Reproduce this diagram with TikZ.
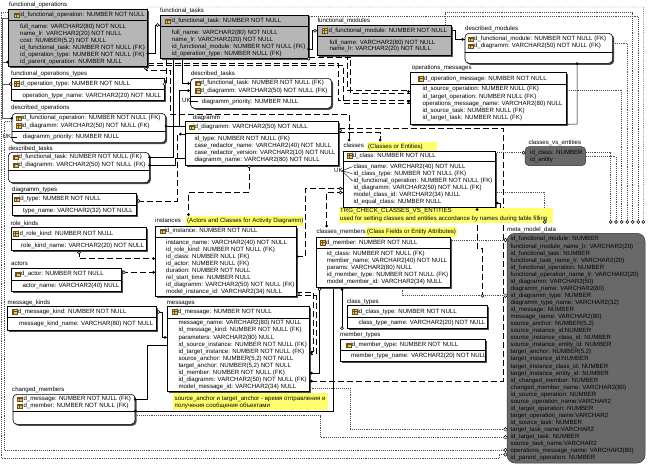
\documentclass[tikz,border=0pt]{standalone}
\usepackage{fontspec}
\setmainfont{Liberation Sans}
\usetikzlibrary{fit,shadows}
\pgfdeclarelayer{paper}
\pgfdeclarelayer{bg}
\pgfsetlayers{paper,bg,main}
\definecolor{ylw}{RGB}{255,255,110}
\definecolor{gbox}{RGB}{182,182,182}
\definecolor{vbox}{RGB}{105,105,105}
\definecolor{keyf}{RGB}{232,204,96}
\definecolor{keyd}{RGB}{110,80,30}
\newcommand\fs{\fontsize{6.1}{7}\selectfont}
\tikzset{
 tx/.style={anchor=west,inner sep=0pt,font=\fs,text height=4.4pt,text depth=1.1pt},
 tb/.style={draw=black,line width=0.6pt,fill=white,inner sep=0pt,drop shadow={shadow xshift=1.5pt,shadow yshift=-1.5pt,fill=black!70,opacity=1}},
 tbg/.style={tb,fill=gbox},
 tbr/.style={tb,rounded corners=4pt},
 vw/.style={draw=black!80,line width=0.5pt,fill=vbox,rounded corners=6pt,inner sep=0pt},
 note/.style={fill=ylw,draw=none,inner sep=0pt},
 sepl/.style={draw=black,line width=0.5pt},
 rel/.style={draw=black,line width=0.5pt},
 dsh/.style={rel,dash pattern=on 6pt off 3pt},
 vl/.style={draw=black!70,line width=0.45pt,dash pattern=on 0.8pt off 1.1pt},
 keyic/.pic={\filldraw[fill=keyf,draw=keyd,line width=0.3pt] (-2.6,-2.3) rectangle (2.6,2.3);
   \draw[keyd,line width=0.3pt] (-2.6,-0.7) -- (2.6,-0.7) (-0.9,-2.3) -- (-0.9,2.3);}
}
\newcommand\rws[5]{\foreach \s [count=\i from 0] in {#5} {\node[tx] (#1\i) at (#2,{#3+\i*#4}) {\s};}}
\newcommand\dotm[1]{\fill[black] #1 circle (1.5);}
\newcommand\cirm[1]{\filldraw[fill=white,draw=black,line width=0.5pt] #1 circle (1.5);}
\newcommand\diam[1]{\filldraw[fill=white,draw=black,line width=0.45pt] #1 ++(-1.8,0) -- ++(1.8,-1.8) -- ++(1.8,1.8) -- ++(-1.8,1.8) -- cycle;}
\begin{document}
\catcode`\_=12
\begin{tikzpicture}[x=1pt,y=-1pt]
\begin{pgfonlayer}{paper}
\path[use as bounding box,fill=white] (0,0) rectangle (648,466);
\end{pgfonlayer}

% ---------------- functional_operations
\node[tx] (fol) at (9,4.5) {functional_operations};
\node[tbg,fit={(8,9)(147.5,66)}] (fo) {};
\draw[sepl] (fo.west |- 0,20.7) -- (fo.east |- 0,20.7);
\node[tx] (foh) at (19.3,15.3) {id_functional_operation: NUMBER NOT NULL};
\pic at (16.8,15.3) {keyic};
\rws{fo}{20}{26.7}{7.05}{{full_name: VARCHAR2(80) NOT NULL},{name_lr: VARCHAR2(20) NOT NULL},{cost: NUMBER(5,2) NOT NULL},{id_functional_task: NUMBER NOT NULL (FK)},{id_operation_type: NUMBER NOT NULL (FK)},{id_parent_operation: NUMBER NULL}}

% ---------------- functional_operations_types
\node[tx] (fotl) at (11,74.3) {functional_operations_types};
\node[tb,fit={(11,78.3)(164.3,100.7)}] (fot) {};
\draw[sepl] (fot.west |- 0,89) -- (fot.east |- 0,89);
\node[tx] (foth) at (19,83.5) {id_operation_type: NUMBER NOT NULL};
\pic at (17,83.5) {keyic};
\node[tx] (fotr) at (22.5,95.5) {operation_type_name: VARCHAR2(20) NOT NULL};

% ---------------- described_operations
\node[tx] (dol) at (11,108.3) {described_operations};
\node[tbr,fit={(12,113.3)(165.7,142.7)}] (do) {};
\draw[sepl] (do.west |- 0,131.3) -- (do.east |- 0,131.3);
\rws{doh}{21.3}{118.3}{7.4}{{id_functional_operation: NUMBER NOT NULL (FK)},{id_diagramm: VARCHAR2(50) NOT NULL (FK)}}
\pic at (19,118.3) {keyic}; \pic at (19,125.7) {keyic};
\node[tx] (dor) at (22.7,137.3) {diagramm_priority: NUMBER NULL};
\node[tx] (douk) at (2.5,137.3) {UK};
\draw[rel,line width=0.4pt] (douk.east) -- (17,137.3);

% ---------------- described_tasks (left)
\node[tx] (dt1l) at (8.5,148.7) {described_tasks};
\node[tbr,fit={(8.3,152.3)(149.3,182.7)}] (dt1) {};
\draw[sepl] (dt1.west |- 0,170.3) -- (dt1.east |- 0,170.3);
\rws{dt1h}{17}{157.3}{8}{{id_functional_task: NUMBER NOT NULL (FK)},{id_diagramm: VARCHAR2(50) NOT NULL (FK)}}
\pic at (15.5,157.3) {keyic}; \pic at (15.5,165.3) {keyic};

% ---------------- diagramm_types
\node[tx] (dtyl) at (12,190) {diagramm_types};
\node[tb,fit={(12.3,193.3)(136.7,215.7)}] (dty) {};
\draw[sepl] (dty.west |- 0,205) -- (dty.east |- 0,205);
\node[tx] (dtyh) at (18.7,199.3) {id_type: NUMBER NOT NULL};
\pic at (16.7,199.3) {keyic};
\node[tx] (dtyr) at (23,211.3) {type_name: VARCHAR2(32) NOT NULL};

% ---------------- role_kinds
\node[tx] (rkl) at (10.3,223.7) {role_kinds};
\node[tb,fit={(11,227.7)(146.7,250.7)}] (rk) {};
\draw[sepl] (rk.west |- 0,239.7) -- (rk.east |- 0,239.7);
\node[tx] (rkh) at (18,233.7) {id_role_kind: NUMBER NOT NULL};
\pic at (16,233.7) {keyic};
\node[tx] (rkr) at (21,245.7) {role_kind_name: VARCHAR2(20) NOT NULL};

% ---------------- actors
\node[tx] (actl) at (11,264) {actors};
\node[tb,fit={(11.7,268.3)(121.7,291.7)}] (act) {};
\draw[sepl] (act.west |- 0,280) -- (act.east |- 0,280);
\node[tx] (acth) at (19.5,274.3) {id_actor: NUMBER NOT NULL};
\pic at (17.5,274.3) {keyic};
\node[tx] (actr) at (22.3,285.7) {actor_name: VARCHAR2(40) NULL};

% ---------------- message_kinds
\node[tx] (mkl) at (7.5,302.7) {message_kinds};
\node[tb,fit={(7.3,306.7)(156.3,330)}] (mk) {};
\draw[sepl] (mk.west |- 0,317.7) -- (mk.east |- 0,317.7);
\node[tx] (mkh) at (16.5,311.7) {id_message_kind: NUMBER NOT NULL};
\pic at (14.5,311.7) {keyic};
\node[tx] (mkr) at (19,324) {message_kind_name: VARCHAR(80) NOT NULL};

% ---------------- changed_members
\node[tx] (cmeml) at (12,390) {changed_members};
\node[tbr,fit={(13,394.3)(135,424.3)}] (cmem) {};
\draw[sepl] (cmem.west |- 0,411.7) -- (cmem.east |- 0,411.7);
\rws{cmemh}{22}{399.3}{6.9}{{id_message: NUMBER NOT NULL (FK)},{id_member: NUMBER NOT NULL (FK)}}
\pic at (20,399.3) {keyic}; \pic at (20,406.2) {keyic};

% ---------------- functional_tasks
\node[tx] (ftl) at (160,10.7) {functional_tasks};
\node[tbg,fit={(160,15.7)(308.3,58.3)}] (ft) {};
\draw[sepl] (ft.west |- 0,26.7) -- (ft.east |- 0,26.7);
\node[tx] (fth) at (170,21) {id_functional_task: NUMBER NOT NULL};
\pic at (168,21) {keyic};
\rws{ft}{171.7}{32.7}{6.95}{{full_name: VARCHAR2(80) NOT NULL},{name_lr: VARCHAR2(20) NOT NULL},{id_functional_module: NUMBER NOT NULL (FK)},{id_operation_type: NUMBER NULL (FK)}}

% ---------------- functional_modules
\node[tx] (fml) at (317.3,20.7) {functional_modules};
\node[tbg,fit={(317.3,25)(451.7,55)}] (fm) {};
\draw[sepl] (fm.west |- 0,36.7) -- (fm.east |- 0,36.7);
\node[tx] (fmh) at (327,30.7) {id_functional_module: NUMBER NOT NULL};
\pic at (325,30.7) {keyic};
\rws{fm}{329.3}{42.7}{6.6}{{full_name: VARCHAR2(80) NOT NULL},{name_lr: VARCHAR2(20) NOT NULL}}

% ---------------- described_modules
\node[tx] (dml) at (465,29) {described_modules};
\node[tbr,fit={(465,33.3)(612.7,63.3)}] (dm) {};
\draw[sepl] (dm.west |- 0,52.3) -- (dm.east |- 0,52.3);
\rws{dmh}{472.5}{39.3}{6.7}{{id_functional_module: NUMBER NOT NULL (FK)},{id_diagramm: VARCHAR2(50) NOT NULL (FK)}}
\pic at (471,39.3) {keyic}; \pic at (471,46) {keyic};

% ---------------- operations_messages
\node[tx] (oml) at (411.7,68.3) {operations_messages};
\node[tb,fit={(410.7,72.7)(566.7,124)}] (om) {};
\draw[sepl] (om.west |- 0,84.7) -- (om.east |- 0,84.7);
\node[tx] (omh) at (422.5,78.7) {id_operation_message: NUMBER NOT NULL};
\pic at (420.5,78.7) {keyic};
\rws{om}{422.3}{89.3}{7.17}{{id_source_operation: NUMBER NULL (FK)},{id_target_operation: NUMBER NULL (FK)},{operations_message_name: VARCHAR2(80) NULL},{id_source_task: NUMBER NULL (FK)},{id_target_task: NUMBER NULL (FK)}}

% ---------------- described_tasks (middle)
\node[tx] (dt2l) at (190.7,73.7) {described_tasks};
\node[tbr,fit={(190.5,78.3)(331.7,108.3)}] (dt2) {};
\draw[sepl] (dt2.west |- 0,96.3) -- (dt2.east |- 0,96.3);
\rws{dt2h}{199}{83.3}{7.4}{{id_functional_task: NUMBER NOT NULL (FK)},{id_diagramm: VARCHAR2(50) NOT NULL (FK)}}
\pic at (197.5,83.3) {keyic}; \pic at (197.5,90.7) {keyic};
\node[tx] (dt2r) at (201.7,102.3) {diagramm_priority: NUMBER NULL};
\node[tx] (dt2uk) at (182,100.7) {UK};
\draw[rel,line width=0.4pt] (dt2uk.east) -- (198,100.7);

% ---------------- diagramm
\node[tx] (dgl) at (192.7,117.7) {diagramm};
\node[tb,fit={(185,121.7)(338.3,165)}] (dg) {};
\draw[sepl] (dg.west |- 0,133.3) -- (dg.east |- 0,133.3);
\node[tx] (dgh) at (193,127.3) {id_diagramm: VARCHAR2(50) NOT NULL};
\pic at (191.7,127.3) {keyic};
\rws{dg}{194.3}{139}{7.05}{{id_type: NUMBER NOT NULL (FK)},{case_redactor_name: VARCHAR2(40) NOT NULL},{case_redactor_version: VARCHAR2(10) NOT NULL},{diagramm_name: VARCHAR2(80) NOT NULL}}

% ---------------- classes
\node[tx] (clsl) at (343.3,146.3) {classes};
\node[note,fit={(366.7,141.7)(436.7,151.3)}] (clsn) {};
\node[tx] (clsnt) at (368,146.5) {(Classes or Entities)};
\node[tb,fit={(343.3,151)(495,207)}] (cls) {};
\draw[sepl] (cls.west |- 0,161.7) -- (cls.east |- 0,161.7);
\node[tx] (clsh) at (351.3,155.7) {id_class: NUMBER NOT NULL};
\pic at (349.8,155.7) {keyic};
\rws{cls}{353.3}{166.7}{7.1}{{class_name: VARCHAR2(40) NOT NULL},{id_class_type: NUMBER NOT NULL (FK)},{id_functional_operation: NUMBER NOT NULL (FK)},{id_diagramm: VARCHAR2(50) NOT NULL (FK)},{model_class_id: VARCHAR2(34) NULL},{id_equal_class: NUMBER NULL}}
\node[tx] (clsuk) at (334,170.7) {UK};
\draw[rel,line width=0.4pt] (342,170.7) -- (352.5,166.7) (342,170.7) -- (352.5,173.8) (342,170.7) -- (352.5,181);

% ---------------- trigger note
\node[note,fit={(338.7,207.7)(553,222.7)}] (trg) {};
\node[tx] (trg1) at (340,211.3) {TRG_CHECK_CLASSES_VS_ENTITIES};
\node[tx] (trg2) at (340,218.7) {used for setting classes and entities accordance by names during table filling};

% ---------------- classes_members
\node[tx] (cml) at (316.3,231.7) {classes_members};
\node[note,fit={(366,227)(457,237)}] (cmn) {};
\node[tx] (cmnt) at (367,232) {(Class Fields or Entity Attributes)};
\node[tb,fit={(316.7,237.7)(450,287.3)}] (cm) {};
\draw[sepl] (cm.west |- 0,248.3) -- (cm.east |- 0,248.3);
\node[tx] (cmh) at (324.5,242.7) {id_member: NUMBER NOT NULL};
\pic at (323,242.7) {keyic};
\rws{cm}{326.7}{254}{7.07}{{id_class: NUMBER NOT NULL (FK)},{member_name: VARCHAR2(40) NOT NULL},{params: VARCHAR2(80) NULL},{id_member_type: NUMBER NOT NULL (FK)},{model_member_id: VARCHAR2(34) NULL}}

% ---------------- class_types
\node[tx] (ctl) at (346.7,301.7) {class_types};
\node[tb,fit={(347,305)(487,328.3)}] (ct) {};
\draw[sepl] (ct.west |- 0,317) -- (ct.east |- 0,317);
\node[tx] (cth) at (357.3,311.7) {id_class_type: NUMBER NOT NULL};
\pic at (355,311.7) {keyic};
\node[tx] (ctr) at (358.3,322.7) {class_type_name: VARCHAR2(20) NOT NULL};

% ---------------- member_types
\node[tx] (mtl) at (340,335) {member_types};
\node[tb,fit={(340,339)(485,361.7)}] (mt) {};
\draw[sepl] (mt.west |- 0,350.7) -- (mt.east |- 0,350.7);
\node[tx] (mth) at (350.3,345) {id_member_type: NUMBER NOT NULL};
\pic at (348.3,345) {keyic};
\node[tx] (mtr) at (351,356.3) {member_type_name: VARCHAR2(20) NOT NULL};

% ---------------- instances
\node[tx] (instl) at (155,221) {instances};
\node[tb,fit={(155.3,226.3)(296,296.7)}] (inst) {};
\node[note,fit={(185.5,215.7)(303.3,226.3)}] (instn) {};
\node[tx] (instnt) at (187,221) {(Actors and Classes for Activity Diagramm)};
\draw[sepl] (inst.west |- 0,236.8) -- (inst.east |- 0,236.8);
\node[tx] (insth) at (164.3,231.2) {id_instance: NUMBER NOT NULL};
\pic at (162.8,231.2) {keyic};
\rws{inst}{166}{242.5}{7.07}{{instance_name: VARCHAR2(40) NOT NULL},{id_role_kind: NUMBER NOT NULL (FK)},{id_class: NUMBER NULL (FK)},{id_actor: NUMBER NULL (FK)},{duration: NUMBER NOT NULL},{rel_start_time: NUMBER NULL},{id_diagramm: VARCHAR2(50) NOT NULL (FK)},{model_instance_id: VARCHAR2(34) NULL}}

% ---------------- messages
\node[tx] (msgl) at (166.7,302.7) {messages};
\node[tb,fit={(167,306.7)(309.3,391.7)}] (msg) {};
\draw[sepl] (msg.west |- 0,317.8) -- (msg.east |- 0,317.8);
\node[tx] (msgh) at (176.5,311.7) {id_message: NUMBER NOT NULL};
\pic at (175,311.7) {keyic};
\rws{msg}{178.3}{323.3}{7.04}{{message_name: VARCHAR2(80) NOT NULL},{id_message_kind: NUMBER NOT NULL (FK)},{parameters: VARCHAR2(80) NULL},{id_source_instance: NUMBER NOT NULL (FK)},{id_target_instance: NUMBER NOT NULL (FK)},{source_anchor: NUMBER(5,2) NOT NULL},{target_anchor: NUMBER(5,2) NOT NULL},{id_member: NUMBER NOT NULL (FK)},{id_diagramm: VARCHAR2(50) NOT NULL (FK)},{model_message_id: VARCHAR2(34) NULL}}
\node[note,fit={(173.3,393.3)(328.3,410)}] (msgn) {};
\node[tx] (msgn1) at (174.5,399) {source_anchor и target_anchor - время отправления и};
\node[tx] (msgn2) at (174.5,406) {получения сообщения объектами};

% ---------------- classes_vs_entities (view)
\node[tx] (cvel) at (528.3,143.3) {classes_vs_entities};
\node[vw,rounded corners=4pt,fit={(525,146.7)(585.7,165.7)}] (cve) {};
\node[tx] (cve0) at (530,152.7) {id_class: NUMBER};
\node[tx] (cve1) at (530,159.7) {id_entity};

% ---------------- meta_model_data (view)
\node[tx] (mmdl) at (507,229.7) {meta_model_data};
\node[vw,rounded corners=8pt,fit={(507,233.3)(645,463)}] (mmd) {};
\rws{mmd}{510.5}{239.3}{7.06}{{id_functional_module: NUMBER},{functional_module_name_lr: VARCHAR2(20)},{id_functional_task: NUMBER},{functional_task_name_lr: VARCHAR2(20)},{id_functional_operation: NUMBER},{functional_operation_name_lr: VARCHAR2(20)},{id_diagramm: VARCHAR2(50)},{diagramm_name: VARCHAR2(80)},{id_diagramm_type: NUMBER},{diagramm_type_name: VARCHAR2(32)},{id_message: NUMBER},{message_name: VARCHAR2(80)},{source_anchor: NUMBER(5,2)},{source_instance_id:NUMBER},{source_instance_class_id: NUMBER},{source_instance_entity_id: NUMBER},{target_anchor: NUMBER(5,2)},{target_instance_id:NUMBER},{target_instance_class_id: NUMBER},{target_instance_entity_id: NUMBER},{id_changed_member: NUMBER},{changed_member_name: VARCHAR2(80)},{id_source_operation: NUMBER},{source_operation_name:VARCHAR2},{id_target_operation: NUMBER},{target_operation_name:VARCHAR2},{id_source_task: NUMBER},{target_task_name:VARCHAR2},{id_target_task: NUMBER},{source_task_name:VARCHAR2},{operations_message_name: VARCHAR2(80)},{id_parent_operation: NUMBER}}

% ================= connectors (behind the tables)
\begin{pgfonlayer}{bg}
% view dependencies (dotted)
\draw[vl] (fo.north east) -- (147.5,7) -- (643.3,7) -- (643.3,222);
\draw[vl] (ft.east |- 0,16.5) -- (638.3,16.5) -- (638.3,222);
\draw[vl] (fm.north -| 445,0) -- (445,11.8) -- (632.7,11.8) -- (632.7,222);
\draw[vl] (dm.east |- 0,43) -- (627.3,43) -- (627.3,222);
\draw[vl] (om.east |- 0,90) -- (621.7,90) -- (621.7,222);
\draw[vl] (cve.east |- 0,156.5) -- (616,156.5) -- (616,222);
\draw[vl] (cve.east |- 0,152.7) -- (610.7,152.7) -- (610.7,222);
\draw[vl] (cls.east |- 0,152.7) -- (cve.west |- 0,152.7);
\draw[vl] (cls.east |- 0,192) -- (544.7,192) -- (544.7,222);
\draw[vl] (cm.east |- 0,240) -- (mmd.west |- 0,240);
\draw[vl] (cm.south -| 402,0) -- (402,295.7) -- (mmd.west |- 0,295.7);
\draw[vl] (msg.east |- 0,388.3) -- (350,388.3) -- (350,429.3) -- (mmd.west |- 0,429.3);
\draw[vl] (cmem.east |- 0,415.5) -- (320,415.5) -- (320,437.3) -- (mmd.west |- 0,437.3);
\draw[vl] (do.west |- 0,121.5) -- (4.5,121.5) -- (4.5,450) -- (mmd.west |- 0,450);
\draw[vl] (fo.west |- 0,12) -- (0.8,12) -- (0.8,458.3) -- (499,458.3) -- (499,454) -- (mmd.west |- 0,454);
% relationships
\draw[rel,black!65] (fo.west |- 0,62) -- (1.8,62) -- (1.8,84) -- (fot.west |- 0,84);
\draw[rel,black!65] (fo.west |- 0,18) -- (1.8,18) -- (1.8,118.3) -- (do.west |- 0,118.3);
\draw[rel] (fo.east |- 0,53.5) -- (155.5,53.5) -- (155.5,25) -- (ft.west |- 0,25);
\draw[rel] (ft.east |- 0,49) -- (312.5,49) -- (312.5,30.7) -- (fm.west |- 0,30.7);
\draw[rel] (fm.east |- 0,30) -- (455,30) -- (455,39.3) -- (dm.west |- 0,39.3);
\draw[rel] (dm.south -| 577,0) -- (577,124) -- (om.south east);
\draw[dsh] (fo.east |- 0,62.8) -- (338,62.8) -- (338,100.5) -- (om.west |- 0,100.5);
\draw[dsh] (fo.east |- 0,65.5) -- (343.5,65.5) -- (343.5,103) -- (om.west |- 0,103);
\draw[dsh] (ft.east |- 0,56.8) -- (347,56.8) -- (347,90.5) -- (om.west |- 0,90.5);
\draw[dsh] (ft.east |- 0,56.8) -- (350.5,56.8) -- (350.5,93) -- (om.west |- 0,93);
\draw[dsh] (fo.south -| 146,0) -- (146,70) -- (170,70) -- (170,114.5) -- (349,114.5) -- (349,140);
\draw[dsh] (ft.south -| 166.5,0) -- (166.5,84) -- (fot.east |- 0,84);
\draw[rel] (ft.south -| 173,0) -- (173,157.3) -- (dt1.east |- 0,157.3);
\draw[rel] (ft.south -| 182.5,0) -- (182.5,83.5) -- (dt2.west |- 0,83.5);
\draw[rel] (do.east |- 0,126) -- (dg.west |- 0,126);
\draw[rel] (dg.west |- 0,126) -- (179,126) -- (179,90.7) -- (dt2.west |- 0,90.7);
\draw[dsh] (dg.west |- 0,134) -- (177,134) -- (177,201) -- (dty.east |- 0,201);
\draw[rel] (dt1.east |- 0,165.3) -- (175,165.3) -- (175,158) -- (dg.west |- 0,158);
\draw[dsh] (dg.south -| 249,0) -- (249,192) -- (188.5,192) -- (inst.north -| 188.5,0);
\draw[dsh] (rk.south -| 79,0) -- (79,258.7) -- (inst.west |- 0,258.7);
\draw[dsh] (act.east |- 0,272.3) -- (inst.west |- 0,272.3);
\draw[dsh] (cls.west |- 0,188.5) -- (305,188.5) -- (305,256.7) -- (inst.east |- 0,256.7);
\coordinate (cmend) at (326.7,226);
\draw[dsh] (cls.west |- 0,192.5) -- (326.7,192.5) -- (cmend);
\draw[dsh] (dg.east |- 0,128.5) -- (503,128.5) -- (503,381) -- (msg.east |- 0,381);
\draw[dsh] (dg.east |- 0,132.5) -- (380,132.5) -- (380,140);
\draw[dsh] (inst.east |- 0,292.5) -- (313.5,292.5) -- (313.5,351) -- (msg.east |- 0,351);
\draw[dsh] (inst.east |- 0,295.5) -- (316,295.5) -- (316,354) -- (msg.east |- 0,354);
\draw[rel] (msg.east |- 0,373) -- (319.5,373) -- (cm.south -| 319.5,0);
\draw[rel] (cmem.east |- 0,411) -- (333.3,411) -- (cm.south -| 333.3,0);
\draw[rel] (cm.south -| 342,0) -- (342,327);
\draw[rel] (mk.east |- 0,312) -- (162.5,312) -- (162.5,337.3) -- (msg.west |- 0,337.3);
\draw[rel] (cmem.east |- 0,399.3) -- (147.7,399.3) -- (147.7,345) -- (msg.west |- 0,345);
\draw[dsh] (cls.south -| 477,0) -- (477,248) -- (482.5,248) -- (482.5,294);
\draw[rel] (cls.south -| 486,0) -- (486,214) -- (500,214) -- (500,203) -- (cls.east |- 0,203);
\end{pgfonlayer}

% ================= end marks
\foreach \xx in {610.7,616,621.7,627.3,632.7,638.3,643.3} {\cirm{(\xx,222)}}
\cirm{(544.7,222)}
\cirm{(523.5,152.7)}
\diam{(505.5,240)} \diam{(505.5,295.7)} \diam{(505.5,429.3)} \diam{(505.5,437.3)} \diam{(505.5,450)} \diam{(505.5,454.5)}
\cirm{(482.5,295.7)}
\dotm{(fo.west |- 0,62)} \cirm{(fot.west |- 0,84)} \dotm{(do.west |- 0,118.3)}
\dotm{(fo.east |- 0,53.5)} \cirm{(157.5,25)}
\dotm{(ft.east |- 0,49)} \cirm{(315,30.7)}
\dotm{(462.5,39.3)}
\dotm{(dm.south -| 577,0)}
\dotm{(408.5,91.7)} \dotm{(408.5,101.7)} \cirm{(ft.south east)}
\cirm{(146,68.5)} \dotm{(349,140)}
\cirm{(fot.east |- 0,84)}
\dotm{(dt1.east |- 0,157.3)} \dotm{(188.3,83.5)} \dotm{(188.3,90.7)}
\dotm{(do.east |- 0,126)} \dotm{(180.5,134)} \cirm{(138.5,201)}
\dotm{(dt1.east |- 0,165.3)}
\cirm{(249,166.5)} \dotm{(188.5,214.5)}
\cirm{(79,252.5)} \dotm{(153.5,258.7)}
\cirm{(124,272.3)} \dotm{(153.5,272.3)}
\cirm{(340.5,188.5)} \cirm{(340.5,192.5)} \dotm{(297.5,256.7)} \dotm{(cmend)}
\cirm{(340.3,130.5)} \dotm{(380,140)} \dotm{(311.5,381)}
\cirm{(298,294)} \dotm{(311.5,352.7)}
\dotm{(311.5,373)} \cirm{(319.5,289.3)}
\dotm{(cmem.east |- 0,411)} \dotm{(342,289.3)} \cirm{(342,328.3)}
\cirm{(158.5,312)} \dotm{(165,337.3)}
\dotm{(cmem.east |- 0,399.3)}
\dotm{(477,209.5)} \dotm{(497,203)}
\end{tikzpicture}
\end{document}
